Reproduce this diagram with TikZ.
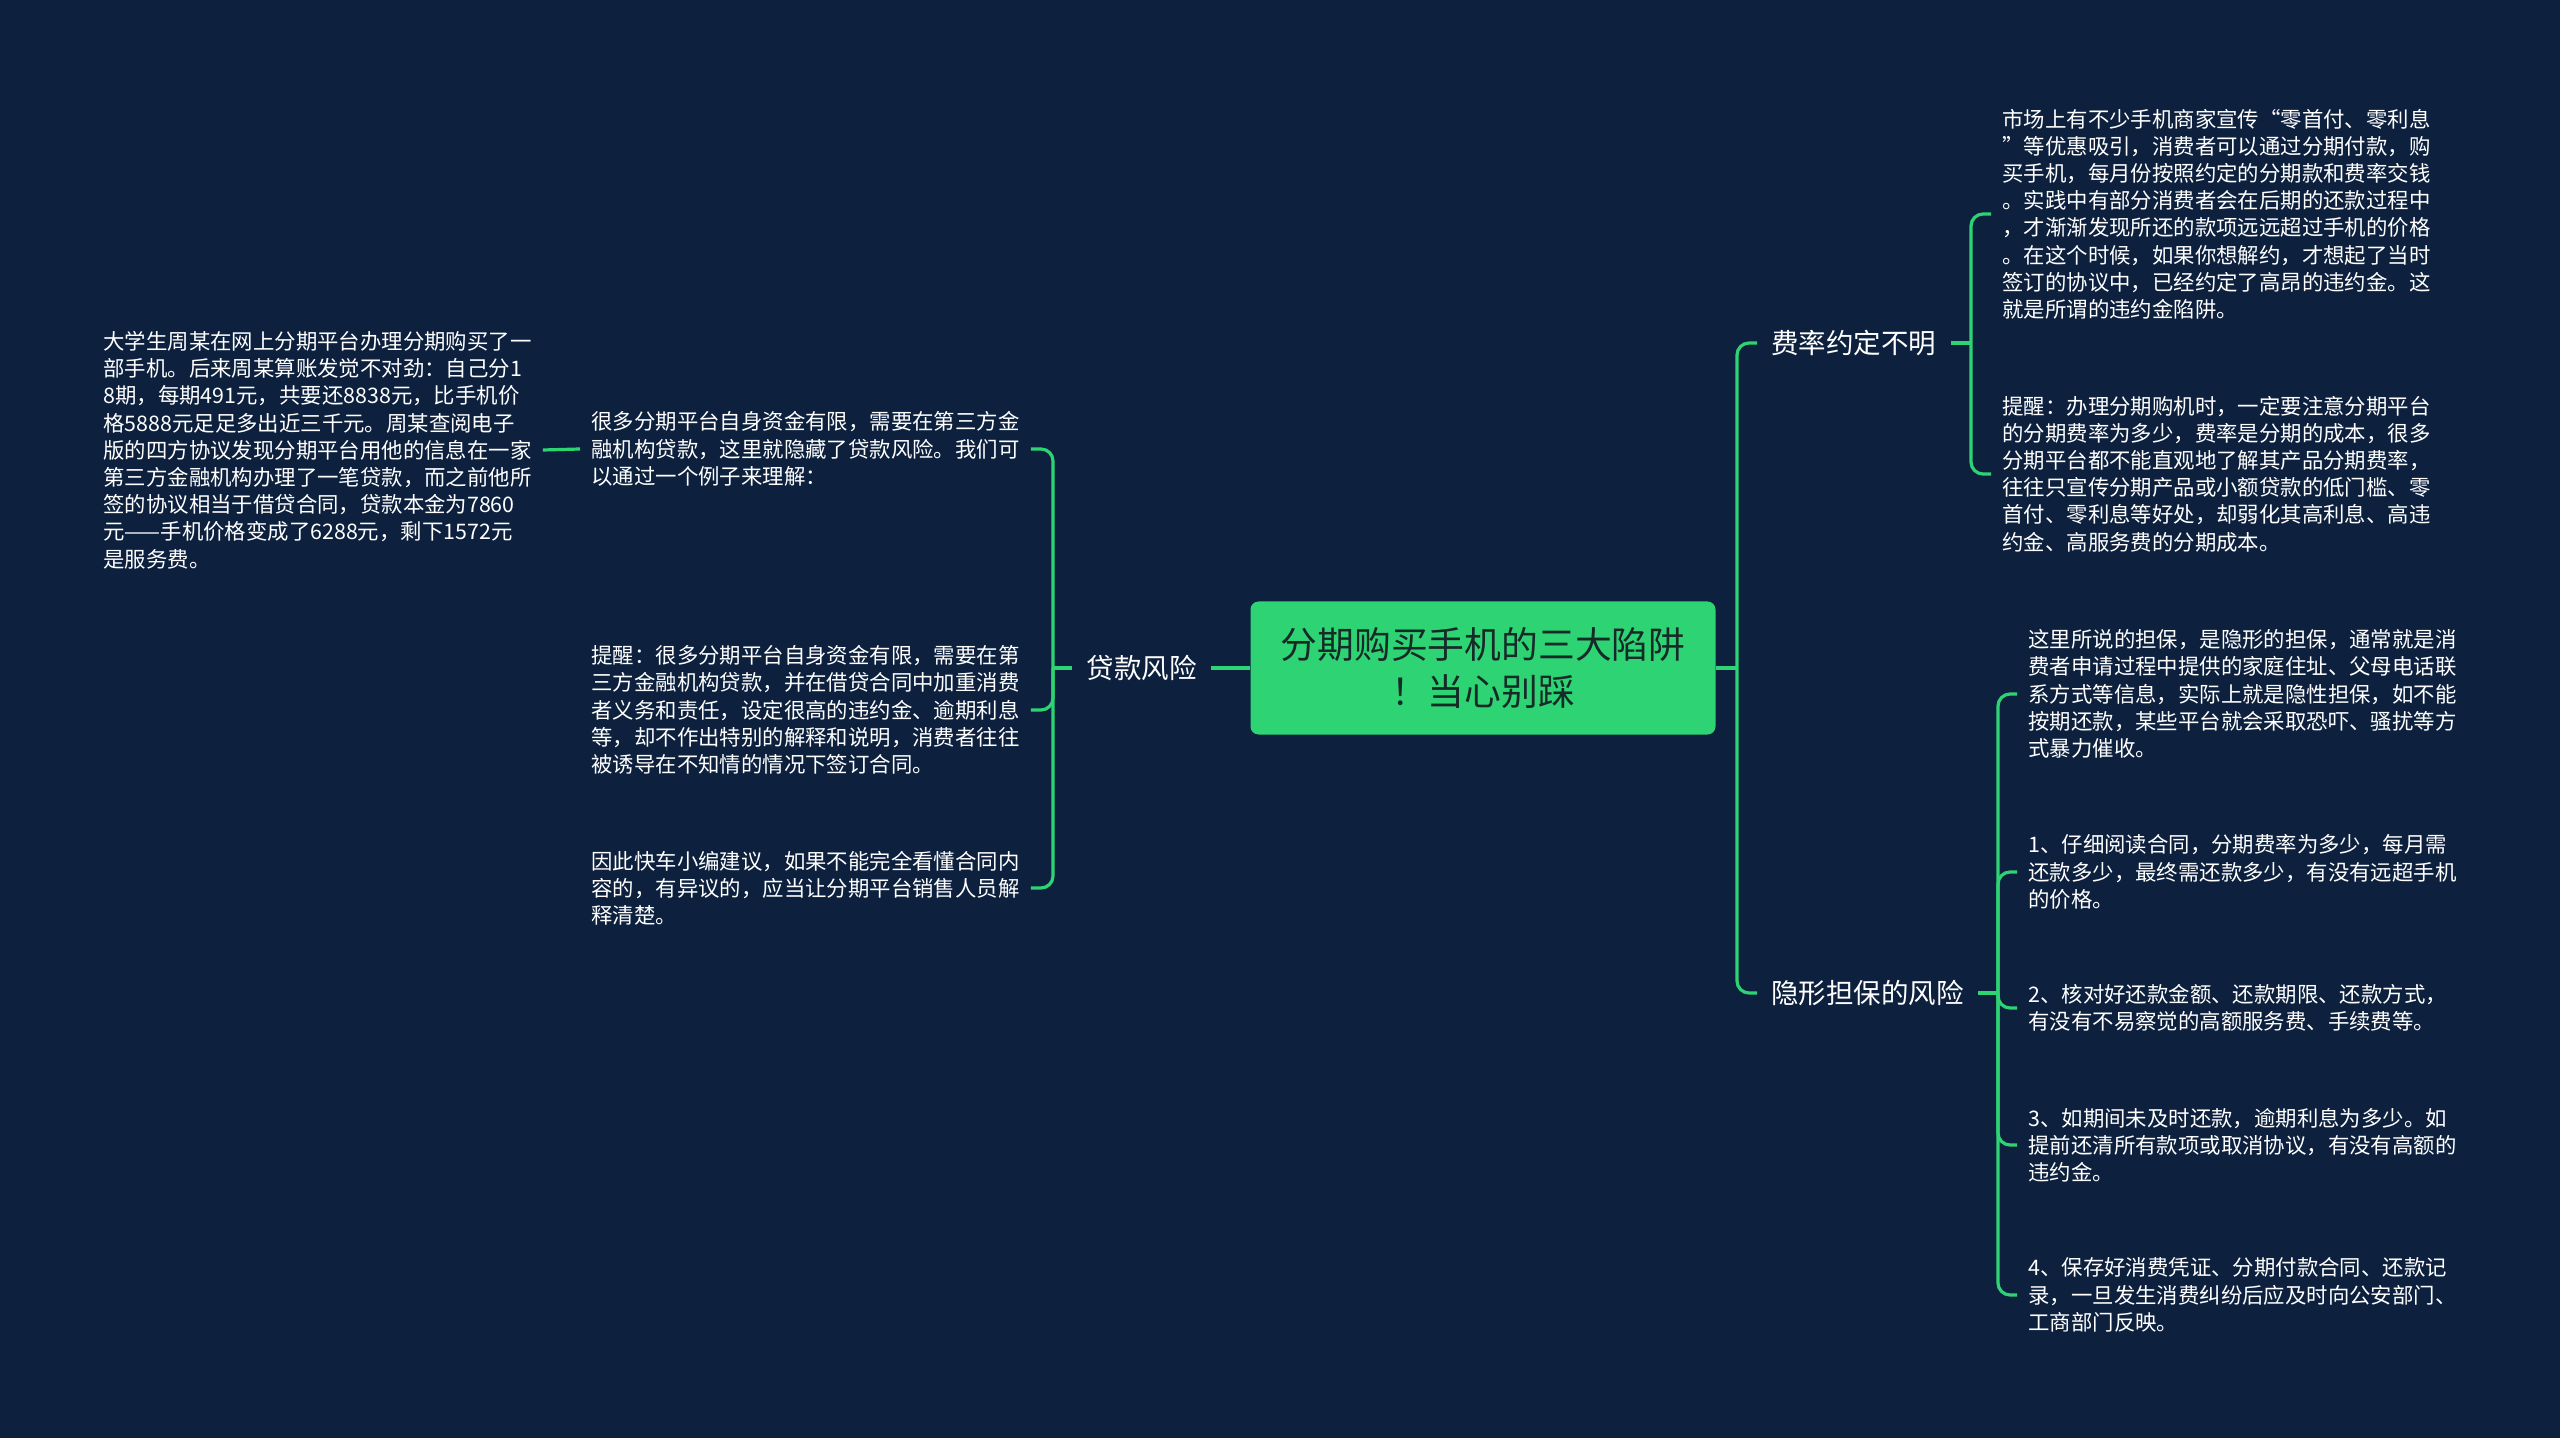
\documentclass[tikz,border=0pt]{standalone}
\usepackage{fontspec}
\setmainfont{Noto Sans CJK SC}
\definecolor{bg}{RGB}{13,33,62}
\definecolor{grn}{RGB}{46,211,115}
\definecolor{ttl}{RGB}{22,42,40}
\begin{document}
\begin{tikzpicture}[x=0.5pt,y=-0.5pt,
  link/.style={draw=grn,line width=1.6pt,rounded corners=6pt},
  leaf/.style={text=white,font=\fontsize{10.7pt}{13.6pt}\selectfont,align=left,inner xsep=5.5pt,inner ysep=0pt},
  branch/.style={text=white,font=\fontsize{13.75pt}{16pt}\selectfont,inner xsep=7pt,inner ysep=2pt},
  root/.style={fill=grn,rounded corners=4pt,text=ttl,font=\fontsize{18.4pt}{23.5pt}\selectfont,align=center,minimum width=232.5pt,minimum height=66.5pt}]
\fill[bg] (0,0) rectangle (2560,1438);
\useasboundingbox (0,0) rectangle (2560,1438);

% root and branches
\node[root] (c) at (1483,668) {分期购买手机的三大陷阱\\！当心别踩};
\node[branch,anchor=east] (loan) at (1211,668) {贷款风险};
\node[branch,anchor=west] (fee) at (1757,343) {费率约定不明};
\node[branch,anchor=west] (hid) at (1757,993) {隐形担保的风险};

% left leaves
\node[leaf,anchor=west] (big) at (92,450) {大学生周某在网上分期平台办理分期购买了一\\
部手机。后来周某算账发觉不对劲：自己分1\\
8期，每期491元，共要还8838元，比手机价\\
格5888元足足多出近三千元。周某查阅电子\\
版的四方协议发现分期平台用他的信息在一家\\
第三方金融机构办理了一笔贷款，而之前他所\\
签的协议相当于借贷合同，贷款本金为7860\\
元——手机价格变成了6288元，剩下1572元\\
是服务费。};
\node[leaf,anchor=west] (l1) at (580,449) {很多分期平台自身资金有限，需要在第三方金\\
融机构贷款，这里就隐藏了贷款风险。我们可\\
以通过一个例子来理解：};
\node[leaf,anchor=west] (l2) at (580,710) {提醒：很多分期平台自身资金有限，需要在第\\
三方金融机构贷款，并在借贷合同中加重消费\\
者义务和责任，设定很高的违约金、逾期利息\\
等，却不作出特别的解释和说明，消费者往往\\
被诱导在不知情的情况下签订合同。};
\node[leaf,anchor=west] (l3) at (580,888) {因此快车小编建议，如果不能完全看懂合同内\\
容的，有异议的，应当让分期平台销售人员解\\
释清楚。};

% right leaves (fee)
\node[leaf,anchor=west] (f1) at (1991,214) {市场上有不少手机商家宣传“零首付、零利息\\
”等优惠吸引，消费者可以通过分期付款，购\\
买手机，每月份按照约定的分期款和费率交钱\\
。实践中有部分消费者会在后期的还款过程中\\
，才渐渐发现所还的款项远远超过手机的价格\\
。在这个时候，如果你想解约，才想起了当时\\
签订的协议中，已经约定了高昂的违约金。这\\
就是所谓的违约金陷阱。};
\node[leaf,anchor=west] (f2) at (1991,474) {提醒：办理分期购机时，一定要注意分期平台\\
的分期费率为多少，费率是分期的成本，很多\\
分期平台都不能直观地了解其产品分期费率，\\
往往只宣传分期产品或小额贷款的低门槛、零\\
首付、零利息等好处，却弱化其高利息、高违\\
约金、高服务费的分期成本。};

% right leaves (hidden guarantee)
\node[leaf,anchor=west] (h1) at (2017,694) {这里所说的担保，是隐形的担保，通常就是消\\
费者申请过程中提供的家庭住址、父母电话联\\
系方式等信息，实际上就是隐性担保，如不能\\
按期还款，某些平台就会采取恐吓、骚扰等方\\
式暴力催收。};
\node[leaf,anchor=west] (h2) at (2017,872) {1、仔细阅读合同，分期费率为多少，每月需\\
还款多少，最终需还款多少，有没有远超手机\\
的价格。};
\node[leaf,anchor=west] (h3) at (2017,1008) {2、核对好还款金额、还款期限、还款方式，\\
有没有不易察觉的高额服务费、手续费等。};
\node[leaf,anchor=west] (h4) at (2017,1145) {3、如期间未及时还款，逾期利息为多少。如\\
提前还清所有款项或取消协议，有没有高额的\\
违约金。};
\node[leaf,anchor=west] (h5) at (2017,1295) {4、保存好消费凭证、分期付款合同、还款记\\
录，一旦发生消费纠纷后应及时向公安部门、\\
工商部门反映。};

% junctions
\coordinate (jl) at (1053,668);
\coordinate (jr) at (1737,668);
\coordinate (jf) at (1971,343);
\coordinate (jh) at (1998,993);

% connectors
\draw[link] (c.west) -- (loan.east);
\draw[link] (loan.west) -- (jl);
\draw[link] (jl) |- (l1.east);
\draw[link] (jl) |- (l2.east);
\draw[link] (jl) |- (l3.east);
\draw[link] (big.east) -- (l1.west);

\draw[link] (c.east) -- (jr);
\draw[link] (jr) |- (fee.west);
\draw[link] (jr) |- (hid.west);

\draw[link] (fee.east) -- (jf);
\draw[link] (jf) |- (f1.west);
\draw[link] (jf) |- (f2.west);

\draw[link] (hid.east) -- (jh);
\draw[link] (jh) |- (h1.west);
\draw[link] (jh) |- (h2.west);
\draw[link] (jh) |- (h3.west);
\draw[link] (jh) |- (h4.west);
\draw[link] (jh) |- (h5.west);
\end{tikzpicture}
\end{document}
